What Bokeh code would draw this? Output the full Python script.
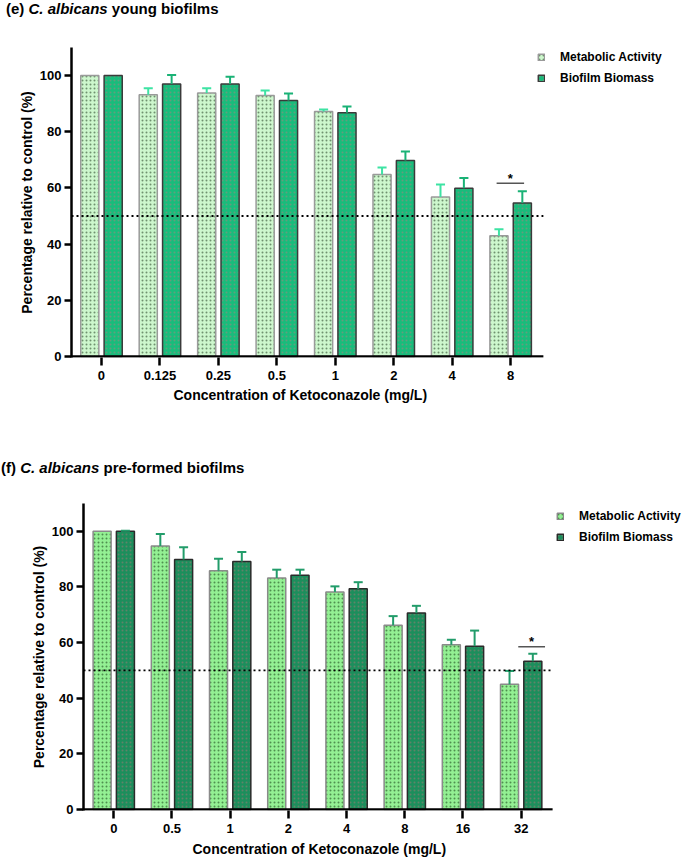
from bokeh.plotting import figure
from bokeh.models import FixedTicker, Legend, LegendItem, Div, Title
from bokeh.layouts import column
from bokeh.embed import file_html
from bokeh.resources import INLINE

# ---------------- data ----------------
conc_e = ["0", "0.125", "0.25", "0.5", "1", "2", "4", "8"]
ma_e = [100, 93.2, 93.8, 92.9, 87.2, 64.8, 56.8, 43.0]
ma_e_err = [0, 2.3, 1.7, 1.8, 0.7, 2.5, 4.4, 2.3]
bb_e = [100, 97.0, 97.0, 91.1, 86.8, 69.8, 59.9, 54.6]
bb_e_err = [0, 3.2, 2.6, 2.5, 2.2, 3.2, 3.6, 4.2]

conc_f = ["0", "0.5", "1", "2", "4", "8", "16", "32"]
ma_f = [100, 94.7, 85.8, 83.2, 78.2, 66.2, 59.2, 45.0]
ma_f_err = [0, 4.3, 4.3, 3.0, 2.0, 3.3, 1.8, 4.8]
bb_f = [100, 89.9, 89.1, 84.2, 79.3, 70.6, 58.7, 53.3]
bb_f_err = [0.2, 4.4, 3.5, 2.0, 2.4, 2.6, 5.6, 2.7]

series_names = ["Metabolic Activity", "Biofilm Biomass"]
y_ticks = [0, 20, 40, 60, 80, 100]
threshold = 50
sig_e = {"x0": 6.76, "x1": 7.23, "y": 61.7, "star_y": 63.3}
sig_f = {"x0": 6.95, "x1": 7.41, "y": 58.5, "star_y": 60.2}
x_title = "Concentration of Ketoconazole (mg/L)"
y_title = "Percentage relative to control (%)"

FONT = "Liberation Sans"
OFF = 0.2
BW = 0.31
CAP = 0.155


def make_panel(cats, ma, ma_err, bb, bb_err, sig, st, width, height, bl, bt, bbo,
               xr, axis_end, legend_xy, xlab_offset, xlab_standoff, margin):
    p = figure(width=width, height=height, output_backend="svg", toolbar_location=None,
               x_range=xr, y_range=(-0.4, 110),
               min_border_left=bl, min_border_right=2,
               min_border_top=bt, min_border_bottom=bbo, margin=margin)
    p.outline_line_color = None
    p.grid.visible = False

    xs = list(range(len(cats)))
    x_ma = [x - OFF for x in xs]
    x_bb = [x + OFF for x in xs]

    r_ma = p.vbar(x=x_ma, top=ma, bottom=0, width=BW, fill_color=st["ma_fill"],
                  line_color=st["ma_line"], line_width=1.5,
                  hatch_pattern="dot", hatch_color=st["ma_hatch"],
                  hatch_scale=4, hatch_weight=1.2, hatch_alpha=0.65)
    r_bb = p.vbar(x=x_bb, top=bb, bottom=0, width=BW, fill_color=st["bb_fill"],
                  line_color=st["bb_line"], line_width=1.5,
                  hatch_pattern="dot", hatch_color=st["bb_hatch"],
                  hatch_scale=4, hatch_weight=1.2, hatch_alpha=0.35)

    for xv, v, e, col in [(x_ma, ma, ma_err, st["ma_err"]), (x_bb, bb, bb_err, st["bb_err"])]:
        xe = [x for x, er in zip(xv, e) if er > 0]
        y0 = [val for val, er in zip(v, e) if er > 0]
        y1 = [val + er for val, er in zip(v, e) if er > 0]
        p.segment(x0=xe, y0=y0, x1=xe, y1=y1, line_color=col, line_width=2)
        p.segment(x0=[x - CAP / 2 for x in xe], y0=y1, x1=[x + CAP / 2 for x in xe], y1=y1,
                  line_color=col, line_width=2)

    # dotted 50% line, spanning the drawn x axis
    p.segment(x0=[xr[0]], y0=[threshold], x1=[axis_end], y1=[threshold],
              line_color="black", line_width=1.8, line_dash="2 3")
    # x axis line (ends before the legend, as in the original)
    p.segment(x0=[xr[0]], y0=[0], x1=[axis_end], y1=[0],
              line_color="black", line_width=2.5)

    p.segment(x0=[sig["x0"]], y0=[sig["y"]], x1=[sig["x1"]], y1=[sig["y"]],
              line_color="#555555", line_width=1.5)
    p.text(x=[(sig["x0"] + sig["x1"]) / 2], y=[sig["star_y"]], text=["*"],
           text_align="center", text_baseline="middle", text_font_size="13px",
           text_font_style="bold", text_color="black", text_font={"value": FONT})

    for ax in (p.xaxis[0], p.yaxis[0]):
        ax.axis_line_width = 2.5
        ax.axis_line_color = "black"
        ax.major_tick_line_width = 2.5
        ax.major_tick_line_color = "black"
        ax.minor_tick_line_color = None
        ax.major_tick_in = 0
        ax.major_label_text_font = FONT
        ax.major_label_text_font_style = "bold"
        ax.major_label_text_font_size = "13px"
        ax.major_label_text_color = "black"
        ax.axis_label_text_font = FONT
        ax.axis_label_text_font_style = "bold"
        ax.axis_label_text_font_size = "14px"
        ax.axis_label_text_color = "black"

    p.xaxis.axis_line_color = None
    p.xaxis.ticker = FixedTicker(ticks=xs)
    p.xaxis.major_label_overrides = {i: c for i, c in enumerate(cats)}
    p.xaxis.major_tick_out = 8
    p.xaxis.major_label_standoff = 5

    p.yaxis.ticker = FixedTicker(ticks=y_ticks)
    p.yaxis.major_tick_out = 7
    p.yaxis.major_label_standoff = 3
    p.yaxis.axis_label = y_title
    p.yaxis.axis_label_standoff = 2

    p.add_layout(Title(text=x_title, align="left", offset=xlab_offset,
                       standoff=xlab_standoff, text_font=FONT, text_font_style="bold",
                       text_font_size="14px", text_color="black"), "below")

    legend = Legend(items=[LegendItem(label=series_names[0], renderers=[r_ma]),
                           LegendItem(label=series_names[1], renderers=[r_bb])],
                    location=legend_xy, orientation="vertical",
                    padding=0, margin=0, spacing=1,
                    glyph_width=8, glyph_height=8, label_standoff=15,
                    label_height=20, label_text_font=FONT, label_text_font_style="bold",
                    label_text_font_size="12px", label_text_color="black",
                    border_line_color=None, background_fill_alpha=0)
    p.add_layout(legend, "center")
    return p


def title_div(html, height, pad_top, pad_left):
    return Div(text=(f'<div style="font-family:\'{FONT}\';font-size:15px;font-weight:bold;'
                     f'line-height:17px;padding-top:{pad_top}px;padding-left:{pad_left}px;'
                     f'color:black;white-space:nowrap;">{html}</div>'),
               width=685, height=height, margin=0)


styles_e = dict(ma_fill="#cdf7cd", ma_line="#9a9a9a", ma_hatch="#3a5a3a",
                bb_fill="#18bc7b", bb_line="#3a3a3a", bb_hatch="#f06080",
                ma_err="#3de3a3", bb_err="#1ab276")
styles_f = dict(ma_fill="#93f093", ma_line="#8a8a8a", ma_hatch="#2a5a2a",
                bb_fill="#1c8e5c", bb_line="#2a2a2a", bb_hatch="#e07080",
                ma_err="#229c6a", bb_err="#229c6a")

d1 = title_div("(e) <i>C. albicans</i> young biofilms", 22, 0, 6)
# top panel: canvas x from -12 to 673, frame 71..671 (axis line drawn to 543)
p1 = make_panel(conc_e, ma_e, ma_e_err, bb_e, bb_e_err, sig_e, styles_e,
                width=685, height=418, bl=83, bt=25, bbo=83,
                xr=(-0.513, 9.752), axis_end=7.56, legend_xy=(466, 269),
                xlab_offset=102, xlab_standoff=4, margin=(0, 0, 0, -12))
d2 = title_div("(f) <i>C. albicans</i> pre-formed biofilms", 40, 19, 1)
p2 = make_panel(conc_f, ma_f, ma_f_err, bb_f, bb_f_err, sig_f, styles_f,
                width=685, height=379, bl=83, bt=23, bbo=49,
                xr=(-0.52, 9.789), axis_end=7.54, legend_xy=(473, 263),
                xlab_offset=109, xlab_standoff=6, margin=0)

layout = column(d1, p1, d2, p2, spacing=0)
open("out.html", "w").write(file_html(layout, INLINE))
